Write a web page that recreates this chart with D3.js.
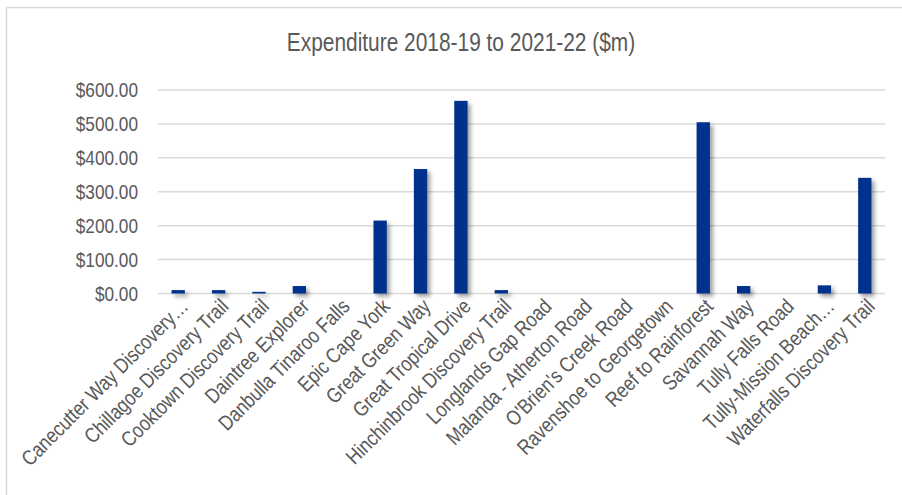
<!DOCTYPE html>
<html><head><meta charset="utf-8">
<script src="https://cdn.jsdelivr.net/npm/d3@7/dist/d3.min.js"></script>
<style>
html,body{margin:0;padding:0;background:#fff;}
svg{display:block;}
text{font-family:"Liberation Sans",Arial,sans-serif;fill:#595959;}
</style></head>
<body>
<script>
const categories = ["Canecutter Way Discovery…","Chillagoe Discovery Trail","Cooktown Discovery Trail","Daintree Explorer","Danbulla Tinaroo Falls","Epic Cape York","Great Green Way","Great Tropical Drive","Hinchinbrook Discovery Trail","Longlands Gap Road","Malanda - Atherton Road","O'Brien's Creek Road","Ravenshoe to Georgetown","Reef to Rainforest","Savannah Way","Tully Falls Road","Tully-Mission Beach…","Waterfalls Discovery Trail"];
const expenditure = [10, 10, 5, 22, 0, 215, 367, 568, 10, 0, 0, 0, 0, 505, 22, 0, 24, 341];
const yTicks = [0, 100, 200, 300, 400, 500, 600];
const title = "Expenditure 2018-19 to 2021-22 ($m)";

const W = 902, H = 495;
const NARROW = 0.82;
const svg = d3.select("body").append("svg").attr("width", W).attr("height", H);

const defs = svg.append("defs");
const f = defs.append("filter").attr("id","shadow").attr("x","-50%").attr("y","-10%").attr("width","250%").attr("height","130%");
f.append("feDropShadow").attr("dx",3).attr("dy",3).attr("stdDeviation",2.2).attr("flood-color","#000").attr("flood-opacity",0.38);

// outer border
svg.append("rect").attr("x",6.5).attr("y",7.5).attr("width",W).attr("height",H)
  .attr("fill","none").attr("stroke","#d9d9d9").attr("stroke-width",1.5);

svg.append("text").attr("x",0).attr("y",0).attr("text-anchor","middle")
  .attr("transform",`translate(461,51) scale(${NARROW},1)`)
  .style("font-size","25.5px").text(title);

const plotL = 158, plotR = 885, plotT = 90, plotB = 293.5;
const x = d3.scaleBand().domain(categories).range([plotL, plotR]).paddingInner(0.67).paddingOuter(0.335);
const y = d3.scaleLinear().domain([0, 600]).range([plotB, plotT]);

// gridlines
svg.append("g").selectAll("line").data(yTicks).join("line")
  .attr("x1", plotL).attr("x2", plotR)
  .attr("y1", d => y(d)).attr("y2", d => y(d))
  .attr("stroke", "#d9d9d9").attr("stroke-width", 1.5);

// y axis
const yAxis = d3.axisLeft(y).tickValues(yTicks).tickSize(0).tickPadding(20)
  .tickFormat(d => "$" + d3.format(",.2f")(d));
const gy = svg.append("g").attr("transform", `translate(${plotL},0)`).call(yAxis);
gy.select(".domain").remove();
gy.selectAll("text").style("font-size","21px").attr("fill","#595959")
  .attr("x",0).attr("transform",`translate(-20,0) scale(${NARROW},1)`);

// bars
svg.append("g").attr("filter","url(#shadow)").selectAll("rect").data(categories).join("rect")
  .attr("x", d => x(d)).attr("width", x.bandwidth())
  .attr("y", (d,i) => y(expenditure[i]))
  .attr("height", (d,i) => plotB - y(expenditure[i]))
  .attr("fill", "#00338d");

// x axis
const xAxis = d3.axisBottom(x).tickSize(0).tickPadding(0);
const gx = svg.append("g").attr("transform", `translate(0,${plotB})`).call(xAxis);
gx.select(".domain").remove();
gx.selectAll("text")
  .style("font-size","21px").attr("fill","#595959")
  .attr("text-anchor","end")
  .attr("transform",`translate(6,9) rotate(-45) scale(0.84,1)`)
  .attr("x",0).attr("y",0).attr("dy","0.35em");
</script>
</body></html>
